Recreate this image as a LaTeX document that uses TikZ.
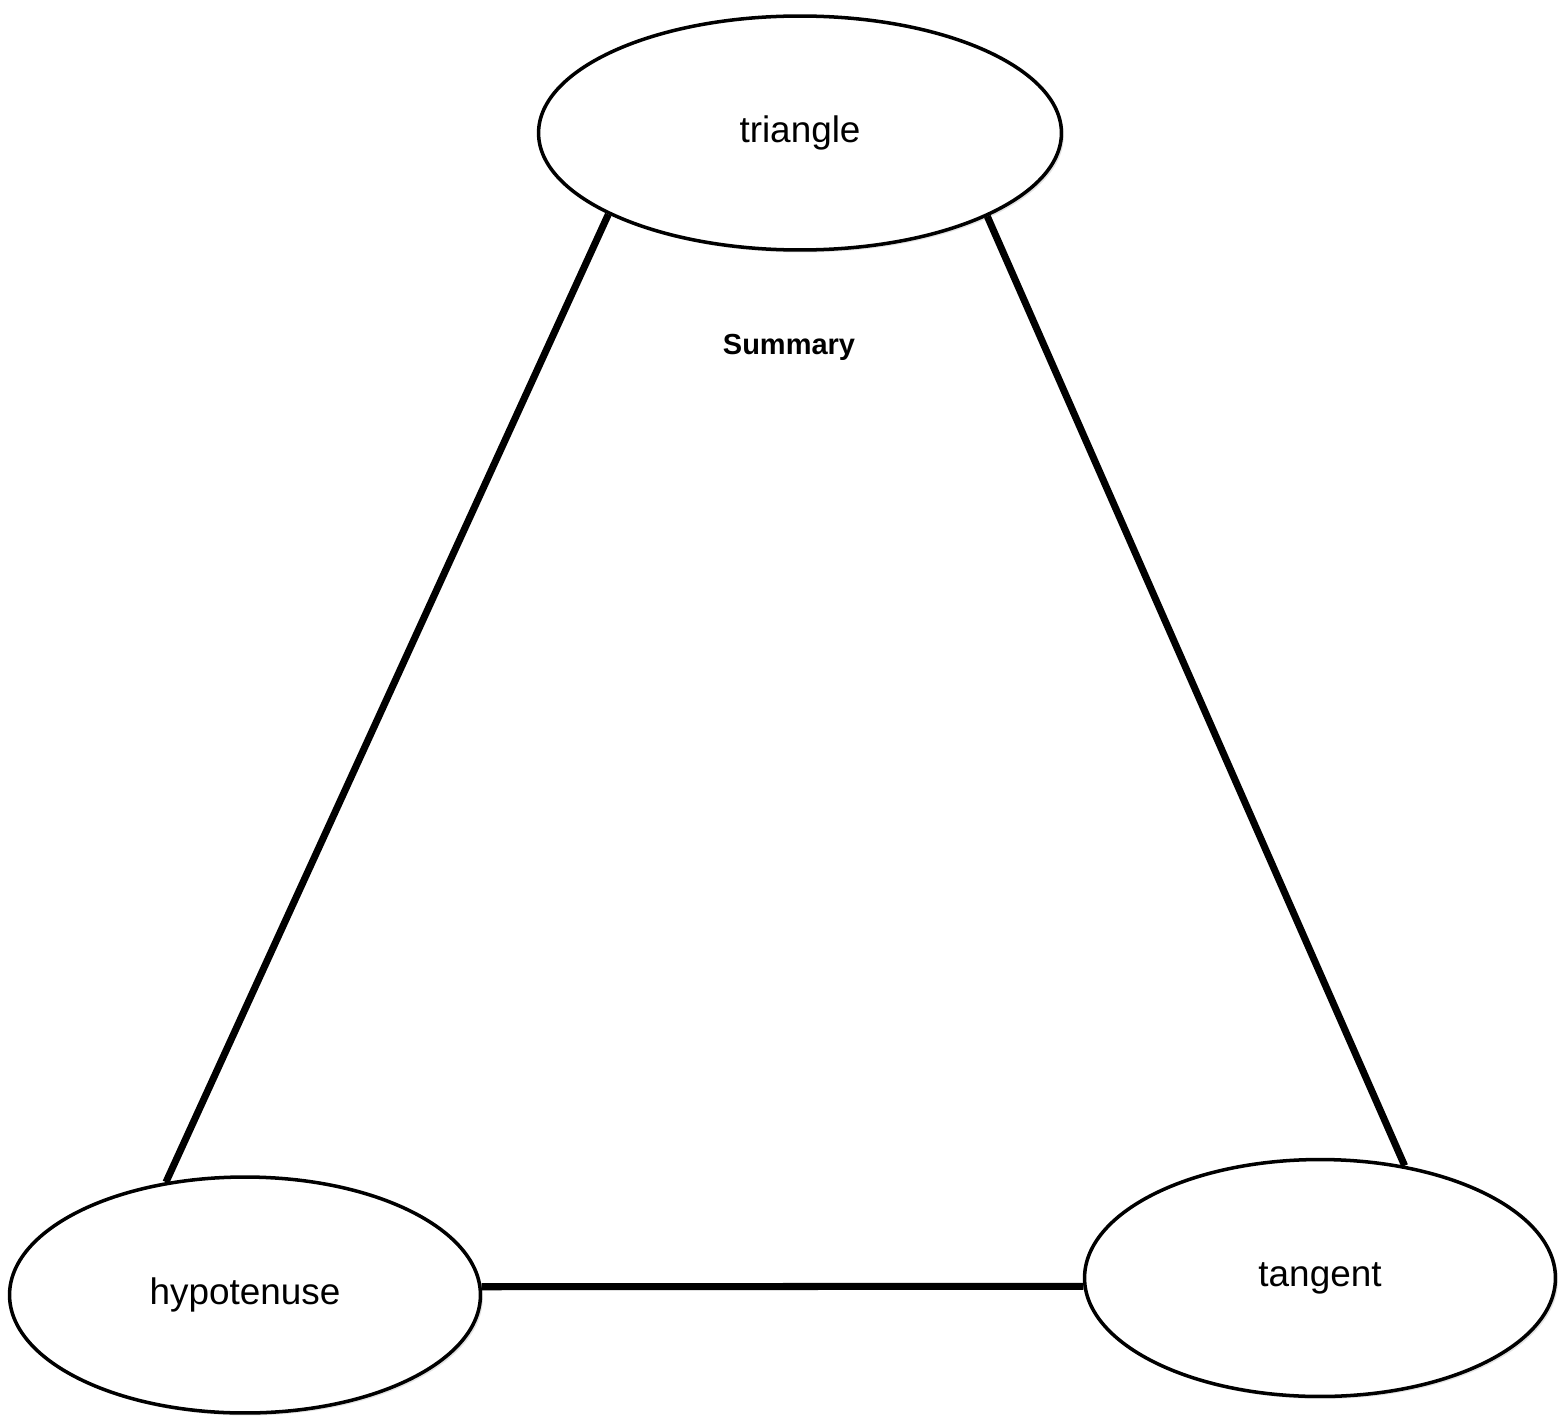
\documentclass[tikz,border=0pt]{standalone}
\usepackage{fontspec}
\setmainfont{Liberation Sans}
\usetikzlibrary{shapes.geometric,shadows}
\begin{document}
\begin{tikzpicture}[x=0.02cm,y=-0.02cm,
    topic/.style={ellipse, draw, line width=2pt, fill=white,
      drop shadow={shadow xshift=0.05cm, shadow yshift=-0.05cm, fill=gray!45},
      font=\fontsize{21}{25}\selectfont},
    link/.style={line width=4pt}]
      \useasboundingbox (0,0) rectangle (1562,1416);

      % Ellipses
      \node[topic, minimum width=10.46cm, minimum height=4.68cm] (tri) at (800,133) {triangle};
      \node[topic, minimum width=9.42cm, minimum height=4.72cm] (hyp) at (245,1295) {hypotenuse};
      \node[topic, minimum width=9.42cm, minimum height=4.74cm] (tan) at (1320,1278) {tangent};

      % Title
      \node[font=\fontsize{16.5}{20}\selectfont\bfseries] (sum) at (789,347) {Summary};

      % Links
      \draw[link] (tri.203) -- (hyp.125);
      \draw[link] (tri.336) -- (tan.53);
      \draw[link] (hyp.2) -- (tan.182);
    \end{tikzpicture}
\end{document}
